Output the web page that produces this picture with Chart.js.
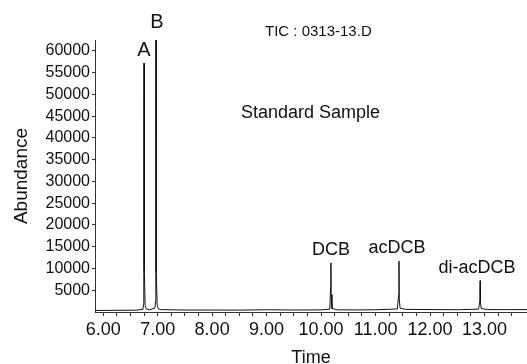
<!DOCTYPE html>
<html>
<head>
<meta charset="utf-8">
<script src="https://cdn.jsdelivr.net/npm/chart.js@4/dist/chart.umd.min.js"></script>
<style>
  body { margin: 0; background: #fff; }
  #wrap { width: 527px; height: 364px; }
</style>
</head>
<body>
<div id="wrap"><canvas id="myChart" width="527" height="364"></canvas></div>
<script>
// chromatogram trace
let times = [5.85, 6.2, 6.6, 6.73, 6.742, 6.746, 6.75, 6.754, 6.758, 6.77, 6.79, 6.85,
             6.95, 6.962, 6.967, 6.97, 6.973, 6.978, 6.99, 7.01, 7.05, 7.5, 8.0, 8.5,
             9.0, 9.5, 10.0, 10.16, 10.175, 10.18, 10.185, 10.2, 10.3, 10.7, 11.0, 11.4,
             11.425, 11.43, 11.435, 11.45, 11.55, 12.0, 12.5, 12.89, 12.915, 12.92, 12.925,
             12.94, 13.05, 13.4, 13.8];
let abundance = [350, 380, 420, 600, 1800, 30000, 57200, 20000, 9500, 1500, 700, 500,
                 900, 2500, 45000, 64000, 40000, 9000, 1800, 800, 550, 450, 450, 430,
                 520, 460, 480, 650, 5500, 11300, 4000, 800, 500, 480, 520, 700,
                 4000, 11700, 3000, 900, 600, 560, 520, 650, 2500, 7200, 2200,
                 800, 560, 540, 560];

let xTicks = [6, 7, 8, 9, 10, 11, 12, 13];
let yTicks = [5000, 10000, 15000, 20000, 25000, 30000, 35000, 40000, 45000, 50000, 55000, 60000];

let notes = [
    {text: "B", x: 157, y: 22, size: 20, align: "center"},
    {text: "A", x: 144, y: 50, size: 20, align: "center"},
    {text: "TIC : 0313-13.D", x: 265, y: 32, size: 15, align: "left"},
    {text: "Standard Sample", x: 241, y: 113, size: 18, align: "left"},
    {text: "DCB", x: 331, y: 250, size: 18, align: "center"},
    {text: "acDCB", x: 397, y: 248, size: 18, align: "center"},
    {text: "di-acDCB", x: 477, y: 268, size: 18, align: "center"}
];

const FONT = "'Liberation Sans', Arial, sans-serif";

let notePlugin = {
    id: "notes",
    afterDraw(chart) {
        let ctx = chart.ctx;
        ctx.save();
        ctx.fillStyle = "#111";
        ctx.textBaseline = "middle";
        for (let n of notes) {
            ctx.font = n.size + "px " + FONT;
            ctx.textAlign = n.align;
            ctx.fillText(n.text, n.x, n.y);
        }
        ctx.restore();
    }
};

function generateChart() {
    let pts = [];
    for (let i = 0; i < times.length; i++) {
        pts.push({x: times[i], y: abundance[i]});
    }
    let ctx = document.getElementById("myChart").getContext("2d");
    new Chart(ctx, {
        type: "line",
        data: {
            datasets: [{
                data: pts,
                borderColor: "#111",
                borderWidth: 1,
                pointRadius: 0,
                tension: 0,
                fill: false
            }]
        },
        options: {
            responsive: false,
            animation: false,
            layout: {padding: {top: 40, right: 0, left: 0, bottom: 0}},
            plugins: {legend: {display: false}, tooltip: {enabled: false}},
            scales: {
                x: {
                    type: "linear",
                    min: 5.85,
                    max: 13.78,
                    afterFit(s) { s.height = 52; },
                    afterBuildTicks(s) {
                        let t = [];
                        for (let v = 6; v <= 13.7; v += 0.25) {
                            t.push({value: Math.round(v * 100) / 100});
                        }
                        s.ticks = t;
                    },
                    ticks: {
                        autoSkip: false,
                        maxRotation: 0,
                        padding: 3,
                        color: "#111",
                        font: {family: FONT, size: 18},
                        callback: (v) => xTicks.includes(v) ? v.toFixed(2) : ""
                    },
                    grid: {drawOnChartArea: false, tickLength: 4, color: "#333"},
                    border: {color: "#333", width: 1},
                    title: {
                        display: true,
                        text: "Time",
                        color: "#111",
                        font: {family: FONT, size: 18},
                        padding: {top: 0, bottom: -5}
                    }
                },
                y: {
                    min: 0,
                    max: 62500,
                    afterFit(s) { s.width = 95; },
                    afterBuildTicks(s) {
                        s.ticks = yTicks.map(v => ({value: v}));
                    },
                    ticks: {
                        padding: 2,
                        color: "#111",
                        font: {family: FONT, size: 16},
                        callback: (v) => String(v)
                    },
                    grid: {drawOnChartArea: false, tickLength: 3, color: "#333"},
                    border: {color: "#333", width: 1},
                    title: {
                        display: true,
                        text: "Abundance",
                        color: "#111",
                        font: {family: FONT, size: 19},
                        padding: {top: 10}
                    }
                }
            }
        },
        plugins: [notePlugin]
    });
}

document.addEventListener("DOMContentLoaded", function() {
    generateChart();
});
</script>
</body>
</html>
